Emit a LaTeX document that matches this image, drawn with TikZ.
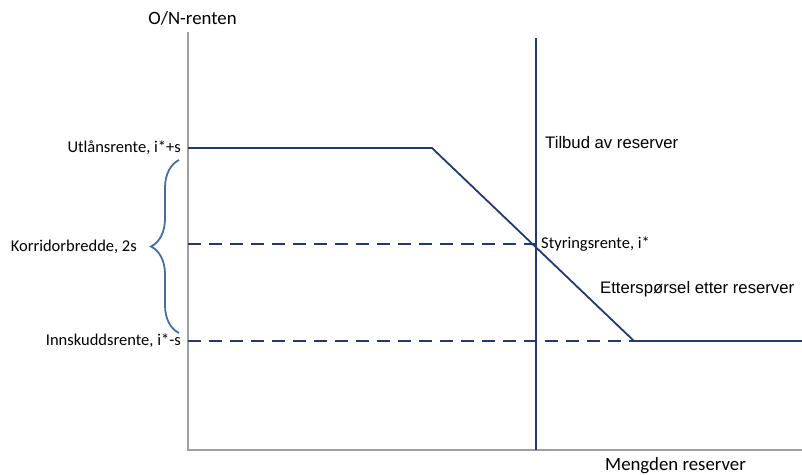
\documentclass[tikz,border=0pt]{standalone}
\usepackage{fontspec}
\setmainfont{Carlito}
\newfontfamily\arialfont{Liberation Sans}
\usetikzlibrary{decorations.pathreplacing}

\definecolor{linjeblaa}{RGB}{36,58,108}
\definecolor{akse}{RGB}{160,160,160}
\definecolor{klamme}{RGB}{70,110,160}

\begin{document}
\begin{tikzpicture}[x=1pt,y=-1pt,
    kurve/.style={draw=linjeblaa,line width=1.8pt},
    stiplet/.style={draw=linjeblaa,line width=1.8pt,dash pattern=on 13pt off 8pt},
    tekst/.style={font=\fontsize{16.5}{19}\selectfont,inner sep=0pt},
    aksetekst/.style={font=\fontsize{18.8}{22}\selectfont,inner sep=0pt},
    arialtekst/.style={font=\arialfont\fontsize{16.7}{19}\selectfont,inner sep=0pt}]
    \useasboundingbox (0,0) rectangle (802,474);

    % Akser
    \coordinate (origo) at (188,450);
    \coordinate (ytopp) at (188,32);
    \coordinate (xslutt) at (802,450);
    \draw[akse,line width=1.4pt] (ytopp) -- (origo) -- (xslutt);
    \node[aksetekst] (yakse) at (192.5,18) {O/N-renten};
    \node[aksetekst] (xakse) at (675.5,466) {Mengden reserver};

    % Tilbud
    \coordinate (tilbudtopp) at (536,38);
    \coordinate (tilbudbunn) at (536,450);
    \draw[kurve] (tilbudtopp) -- (tilbudbunn);
    \node[arialtekst,anchor=west] (tilbud) at (545,143) {Tilbud av reserver};

    % Etterspørsel
    \coordinate (utlaan) at (188,148);
    \coordinate (knekk1) at (432,148);
    \coordinate (knekk2) at (634,341);
    \coordinate (hoyre) at (802,341);
    \draw[kurve] (utlaan) -- (knekk1) -- (knekk2) -- (hoyre);
    \node[arialtekst,anchor=west] (ettersp) at (600,289) {Etterspørsel etter reserver};

    % Stiplede linjer
    \coordinate (styring) at (188,244);
    \coordinate (kryss) at (536,244);
    \coordinate (innskudd) at (188,341);
    \draw[stiplet] (styring) -- (kryss);
    \draw[stiplet] (innskudd) -- (knekk2);

    % Etiketter
    \node[tekst,anchor=east] (utlaanlbl) at (181,148) {Utlånsrente, i*+s};
    \node[tekst,anchor=east] (innskuddlbl) at (181,341) {Innskuddsrente, i*-s};
    \node[tekst,anchor=west] (styringlbl) at (541,244) {Styringsrente, i*};

    % Klamme
    \coordinate (klbunn) at (179,333);
    \coordinate (kltopp) at (179,160);
    \draw[klamme,line width=1.8pt,decorate,decoration={brace,amplitude=28pt}] (klbunn) -- (kltopp);
    \node[tekst,anchor=east] (korridor) at (137,247) {Korridorbredde, 2s};
\end{tikzpicture}
\end{document}
